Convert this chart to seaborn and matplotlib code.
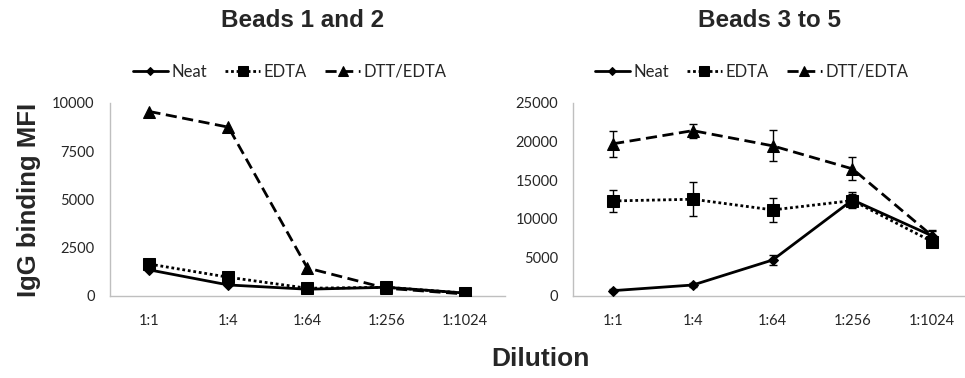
import matplotlib
matplotlib.use("Agg")

import matplotlib.pyplot as plt
from matplotlib.ticker import FixedLocator
import seaborn as sns
import pandas as pd

# ── Data ────────────────────────────────────────────────────────────────────
DILUTIONS = ["1:1", "1:4", "1:64", "1:256", "1:1024"]
SERIES    = ["Neat", "EDTA", "DTT/EDTA"]

# Beads 1 and 2 (no error bars)
B12_NEAT = [1350, 570, 350, 450, 150]
B12_EDTA = [1650, 970, 400, 450, 150]
B12_DTT  = [9550, 8740, 1450, 400, 100]

# Beads 3 to 5 (mean ± error)
B35_NEAT     = [690, 1420, 4660, 12430, 7770]
B35_NEAT_ERR = [150, 250, 600, 1000, 600]
B35_EDTA     = [12300, 12520, 11140, 12350, 7030]
B35_EDTA_ERR = [1450, 2200, 1600, 800, 500]
B35_DTT      = [19700, 21400, 19430, 16450, 7770]
B35_DTT_ERR  = [1700, 900, 2000, 1500, 800]

# ── Style ───────────────────────────────────────────────────────────────────
sns.set_style("white")
plt.rcParams["font.family"] = ["Lato", "DejaVu Sans"]

MARKERS = {"Neat": "D", "EDTA": "s", "DTT/EDTA": "^"}
DASHES  = {"Neat": "", "EDTA": (1, 1), "DTT/EDTA": (4, 2)}
MSIZE   = {"Neat": 5, "EDTA": 8, "DTT/EDTA": 8}
SPINE   = "#bfbfbf"


def long_df(values, errs=None):
    rows = []
    for name, vals in zip(SERIES, values):
        for i, v in enumerate(vals):
            rows.append({"pos": i, "mfi": v, "treatment": name,
                         "err": errs[SERIES.index(name)][i] if errs else 0})
    return pd.DataFrame(rows)


def style_axes(ax, ymax, ystep, xmax):
    ax.set_xlim(-0.5, xmax)
    ax.set_ylim(0, ymax)
    ax.set_xticks(range(len(DILUTIONS)))
    ax.set_xticklabels(DILUTIONS, fontsize=10.5)
    ax.xaxis.set_minor_locator(FixedLocator([i - 0.5 for i in range(len(DILUTIONS) + 1)]))
    ax.tick_params(axis="x", which="major", length=0, pad=13)
    ax.tick_params(axis="x", which="minor", length=5, color=SPINE, direction="out")
    ax.set_yticks(range(0, ymax + 1, ystep))
    ax.tick_params(axis="y", length=5, color=SPINE, direction="out", labelsize=10.5, pad=6)
    ax.spines[["top", "right"]].set_visible(False)
    for s in ("left", "bottom"):
        ax.spines[s].set_color(SPINE)
        ax.spines[s].set_linewidth(1)
    ax.set_xlabel("")
    ax.set_ylabel("")
    ax.grid(False)


def draw(ax, df, with_err):
    if with_err:
        for name in SERIES:
            sub = df[df["treatment"] == name]
            ax.errorbar(sub["pos"], sub["mfi"], yerr=sub["err"], fmt="none",
                        ecolor="black", elinewidth=1, capsize=3, capthick=1, zorder=2)
    for name in SERIES:
        sub = df[df["treatment"] == name]
        sns.lineplot(data=sub, x="pos", y="mfi", ax=ax, color="black",
                     marker=MARKERS[name], markersize=MSIZE[name],
                     markeredgecolor="black", linewidth=2,
                     dashes=False, label=name, zorder=3)
        line = ax.get_lines()[-1]
        if DASHES[name]:
            line.set_dashes(DASHES[name])
    leg = ax.legend(loc="center", bbox_to_anchor=(0.455, 1.16), ncol=3, frameon=False,
                    fontsize=12, handlelength=2.1, columnspacing=1.1, handletextpad=0.2)
    for h, name in zip(leg.legend_handles, SERIES):
        if DASHES[name]:
            h.set_dashes(DASHES[name])
        h.set_markersize(MSIZE[name] - 1)


fig = plt.figure(figsize=(9.65, 3.78), dpi=100)
ax1 = fig.add_axes([0.114, 0.217, 0.409, 0.511])
ax2 = fig.add_axes([0.594, 0.217, 0.406, 0.511])

draw(ax1, long_df([B12_NEAT, B12_EDTA, B12_DTT]), with_err=False)
style_axes(ax1, 10000, 2500, 4.5)

draw(ax2, long_df([B35_NEAT, B35_EDTA, B35_DTT],
                  [B35_NEAT_ERR, B35_EDTA_ERR, B35_DTT_ERR]), with_err=True)
style_axes(ax2, 25000, 5000, 4.41)

TITLE_FONT = ["Liberation Sans", "DejaVu Sans"]
fig.text(0.314, 0.945, "Beads 1 and 2", ha="center", va="center",
         fontsize=17.5, fontweight="bold", family=TITLE_FONT)
fig.text(0.797, 0.945, "Beads 3 to 5", ha="center", va="center",
         fontsize=17.5, fontweight="bold", family=TITLE_FONT)
fig.text(0.03, 0.47, "IgG binding MFI", ha="center", va="center", rotation=90,
         fontsize=18.5, fontweight="bold", family=TITLE_FONT)
fig.text(0.56, 0.05, "Dilution", ha="center", va="center",
         fontsize=19, fontweight="bold", family=TITLE_FONT)

fig.savefig("out.png", dpi=100, facecolor="white")
